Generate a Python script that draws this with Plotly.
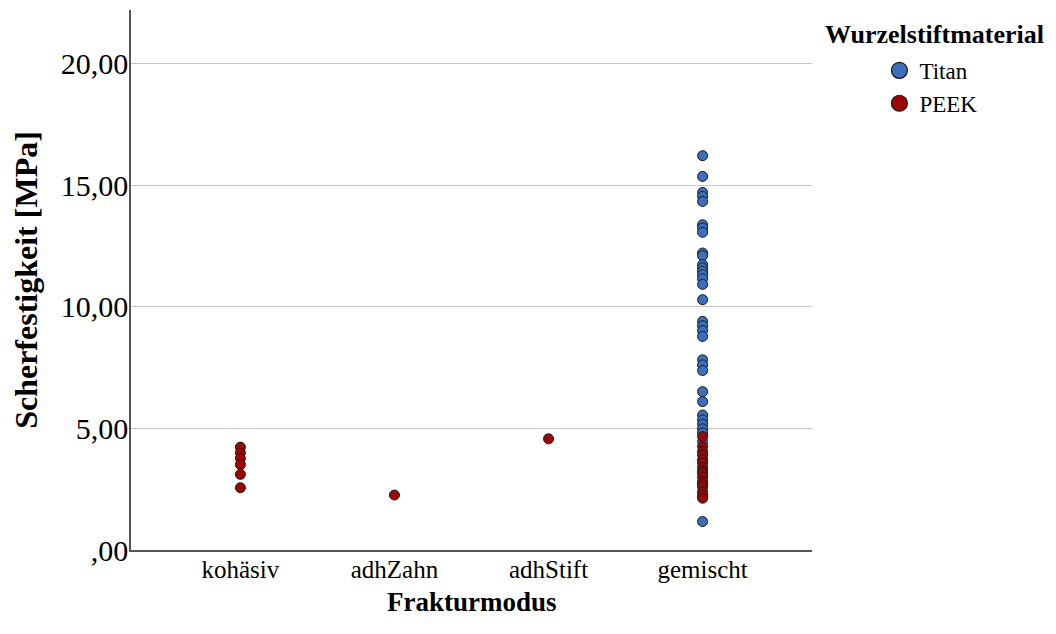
import plotly.graph_objects as go

categories = ["kohäsiv", "adhZahn", "adhStift", "gemischt"]

# Titan (all in 'gemischt')
titan_mode = ["gemischt"] * 33
titan_vals = [16.21, 15.36, 14.70, 14.54, 14.33, 13.37, 13.24, 13.06, 12.21, 12.10,
              11.73, 11.60, 11.46, 11.32, 11.15, 10.92, 10.29, 9.40, 9.22, 9.02,
              8.78, 7.82, 7.61, 7.38, 6.51, 6.10, 5.55, 5.35, 5.17, 4.98,
              4.81, 4.45, 1.17]

# PEEK
peek_mode = (["kohäsiv"] * 6 + ["adhZahn"] + ["adhStift"] + ["gemischt"] * 16)
peek_vals = [4.23, 4.00, 3.77, 3.51, 3.11, 2.56,
             2.26,
             4.57,
             4.66, 4.25, 4.05, 3.90, 3.70, 3.58, 3.40, 3.25, 3.16, 3.00,
             2.81, 2.70, 2.60, 2.40, 2.25, 2.13]

series_names = ["Titan", "PEEK"]
series_colors = ["#3b6fbd", "#9b0606"]
legend_title = "Wurzelstiftmaterial"
x_title = "Frakturmodus"
y_title = "Scherfestigkeit [MPa]"

y_tickvals = [0, 5, 10, 15, 20]
y_ticktext = [",00", "5,00", "10,00", "15,00", "20,00"]

FONT = "Liberation Serif, Times New Roman, serif"

fig = go.Figure()
for name, xs, ys, col in [(series_names[0], titan_mode, titan_vals, series_colors[0]),
                          (series_names[1], peek_mode, peek_vals, series_colors[1])]:
    fig.add_trace(go.Scatter(
        x=xs, y=ys, mode="markers", name=name, showlegend=False,
        marker=dict(size=10, color=col, line=dict(color="#1a1a1a", width=1)),
    ))
    fig.add_trace(go.Scatter(
        x=[None], y=[None], mode="markers", name=name, showlegend=True,
        marker=dict(size=24, color=col, line=dict(color="#1a1a1a", width=1.2)),
    ))

fig.add_annotation(
    text="<b>" + legend_title + "</b>", xref="paper", yref="paper",
    x=1.180, y=0.954, xanchor="center", yanchor="middle", showarrow=False,
    font=dict(size=26, family=FONT, color="black"),
)
fig.add_annotation(
    text="<b>" + x_title + "</b>", xref="paper", yref="paper",
    x=0.5, y=-0.097, xanchor="center", yanchor="middle", showarrow=False,
    font=dict(size=27, family=FONT, color="black"),
)

fig.update_layout(
    width=1040, height=618,
    paper_bgcolor="white", plot_bgcolor="white",
    margin=dict(l=123, r=236, t=2, b=76),
    font=dict(family=FONT, color="black"),
    legend=dict(
        x=1.099, y=0.928, xanchor="left", yanchor="top",
        font=dict(size=23, family=FONT),
        itemsizing="trace", tracegroupgap=0,
        bgcolor="rgba(0,0,0,0)", itemwidth=30,
    ),
    xaxis=dict(
        type="category", categoryorder="array", categoryarray=categories,
        range=[-0.71, 3.71],
        showgrid=False, zeroline=False,
        showline=True, linecolor="#555555", linewidth=1.5,
        ticks="", ticklabelstandoff=-4,
        tickfont=dict(size=25, family=FONT),
    ),
    yaxis=dict(
        range=[0, 22.2],
        tickvals=y_tickvals, ticktext=y_ticktext,
        showgrid=True, gridcolor="#c4c4c4", gridwidth=1,
        zeroline=False,
        showline=True, linecolor="#555555", linewidth=1.5,
        ticks="inside", ticklen=3, tickcolor="#c4c4c4",
        ticklabelstandoff=-5,
        tickfont=dict(size=30, family=FONT),
        title=dict(text="<b>" + y_title + "</b>", font=dict(size=32, family=FONT), standoff=17),
    ),
)

fig.write_html("out.html")
